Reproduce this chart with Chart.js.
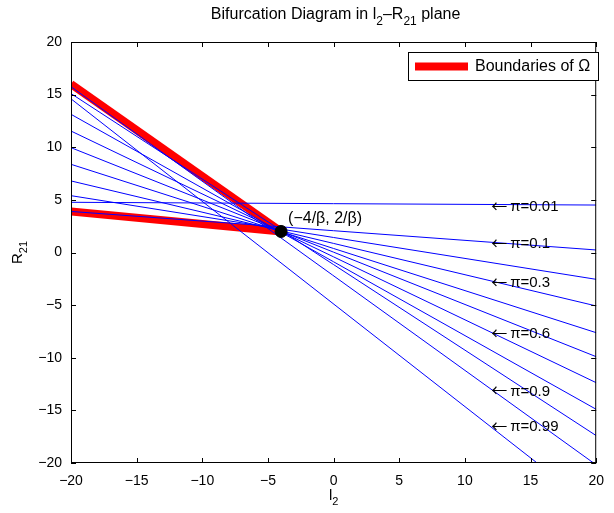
<!DOCTYPE html>
<html>
<head>
<meta charset="utf-8">
<script src="https://cdn.jsdelivr.net/npm/chart.js@4.4.1/dist/chart.umd.min.js"></script>
<style>
  html, body { margin: 0; padding: 0; background: #fff; }
  canvas { display: block; }
</style>
</head>
<body>
<canvas id="chart" width="614" height="513"></canvas>
<script>
// Blue lines: start at l2 = -20, end where they leave the box
const blueStartY = [4.77, 14.6, 15.75, 15.1, 13.13, 11.54, 9.96, 8.38, 6.8, 5.4, 3.9];
const blueEndX = [20, 15.5, 19.8, 20, 20, 20, 20, 20, 20, 20, 20];
const blueEndY = [4.51, -20, -20, -17.4, -14.9, -12.37, -9.9, -7.62, -5.08, -2.55, 0.24];

// Red boundaries of Omega, both ending at the bifurcation point
const redStartY = [16, 3.9];
const bifPoint = { x: -4, y: 2 };

// pi annotations (arrow tip at l2 = 12)
const piValues = ['0.01', '0.1', '0.3', '0.6', '0.9', '0.99'];
const piLabelY = [4.4, 0.9, -2.8, -7.6, -13.1, -16.5];
const piLabelX = 12;

const tickValues = [-20, -15, -10, -5, 0, 5, 10, 15, 20];

const FONT = '"Liberation Sans", Arial, Helvetica, sans-serif';

const datasets = [];
redStartY.forEach((y0, i) => {
    datasets.push({
        label: i === 0 ? 'Boundaries of Ω' : '',
        data: [{ x: -20, y: y0 }, bifPoint],
        borderColor: 'rgb(255,0,0)',
        borderWidth: 8,
        borderCapStyle: 'butt',
        pointRadius: 0,
        showLine: true,
        order: 3
    });
});
blueStartY.forEach((y0, i) => {
    datasets.push({
        label: '',
        data: [{ x: -20, y: y0 }, { x: blueEndX[i], y: blueEndY[i] }],
        borderColor: 'rgb(0,0,255)',
        borderWidth: 1,
        pointRadius: 0,
        showLine: true,
        order: 2
    });
});
datasets.push({
    label: '',
    data: [bifPoint],
    backgroundColor: '#000',
    borderColor: '#000',
    pointRadius: 6,
    showLine: false,
    order: 1
});

function minus(v) {
    return v < 0 ? '\u2212' + Math.abs(v) : String(v);
}

// draw text with subscripts: parts = [[text, isSub], ...]
function drawRich(ctx, parts, x, y, size, align) {
    const subSize = Math.round(size * 0.75);
    let total = 0;
    parts.forEach(([t, sub]) => {
        ctx.font = (sub ? subSize : size) + 'px ' + FONT;
        total += ctx.measureText(t).width;
    });
    let cx = align === 'center' ? x - total / 2 : x;
    ctx.textAlign = 'left';
    ctx.textBaseline = 'alphabetic';
    parts.forEach(([t, sub]) => {
        ctx.font = (sub ? subSize : size) + 'px ' + FONT;
        ctx.fillText(t, cx, sub ? y + size * 0.35 : y);
        cx += ctx.measureText(t).width;
    });
}

const decorations = {
    id: 'decorations',
    afterDraw(chart) {
        const ctx = chart.ctx;
        const a = chart.chartArea;
        const xs = chart.scales.x, ys = chart.scales.y;
        ctx.save();

        // frame
        ctx.strokeStyle = '#000';
        ctx.lineWidth = 1;
        ctx.strokeRect(a.left + 0.5, a.top + 0.5, a.right - a.left - 1, a.bottom - a.top - 1);

        // inward ticks on all sides
        ctx.beginPath();
        tickValues.forEach(v => {
            const px = Math.round(xs.getPixelForValue(v)) + 0.5;
            ctx.moveTo(px, a.bottom); ctx.lineTo(px, a.bottom - 5);
            ctx.moveTo(px, a.top); ctx.lineTo(px, a.top + 5);
            const py = Math.round(ys.getPixelForValue(v)) + 0.5;
            ctx.moveTo(a.left, py); ctx.lineTo(a.left + 5, py);
            ctx.moveTo(a.right, py); ctx.lineTo(a.right - 5, py);
        });
        ctx.stroke();

        ctx.fillStyle = '#000';
        ctx.textAlign = 'left';
        ctx.textBaseline = 'middle';

        // pi annotations: arrow + label
        piValues.forEach((p, i) => {
            const px = xs.getPixelForValue(piLabelX);
            const py = ys.getPixelForValue(piLabelY[i]);
            ctx.font = '16px "Noto Sans CJK JP", "DejaVu Sans", sans-serif';
            ctx.fillText('\u2190', px, py);
            ctx.font = '15px ' + FONT;
            ctx.fillText('\u03c0=' + p, px + 19, py + 1);
        });

        // bifurcation point label
        ctx.font = '16px ' + FONT;
        ctx.fillText('(\u22124/\u03b2, 2/\u03b2)', xs.getPixelForValue(bifPoint.x) + 7, ys.getPixelForValue(bifPoint.y) - 13);

        // legend
        const lx = 408, ly = 52, lw = 190, lh = 28;
        ctx.fillStyle = '#fff';
        ctx.fillRect(lx, ly, lw, lh);
        ctx.strokeStyle = '#000';
        ctx.lineWidth = 1;
        ctx.strokeRect(lx + 0.5, ly + 0.5, lw, lh);
        ctx.strokeStyle = 'rgb(255,0,0)';
        ctx.lineWidth = 8;
        ctx.beginPath();
        ctx.moveTo(lx + 7, ly + lh / 2 + 0.5);
        ctx.lineTo(lx + 60, ly + lh / 2 + 0.5);
        ctx.stroke();
        ctx.fillStyle = '#000';
        ctx.font = '16px ' + FONT;
        ctx.textBaseline = 'middle';
        ctx.fillText(chart.data.datasets[0].label, lx + 67, ly + lh / 2 + 1);

        // title and axis titles
        drawRich(ctx, [['Bifurcation Diagram in l', false], ['2', true], ['\u2013R', false], ['21', true], [' plane', false]],
            (a.left + a.right) / 2 + 2, 19, 16, 'center');
        drawRich(ctx, [['l', false], ['2', true]], (a.left + a.right) / 2, 500, 15, 'center');
        ctx.translate(22, (a.top + a.bottom) / 2);
        ctx.rotate(-Math.PI / 2);
        drawRich(ctx, [['R', false], ['21', true]], 0, 0, 15, 'center');

        ctx.restore();
    }
};

new Chart(document.getElementById('chart'), {
    type: 'scatter',
    data: { datasets },
    options: {
        responsive: false,
        animation: false,
        devicePixelRatio: 1,
        layout: { padding: { left: 0, top: 42, right: 10, bottom: 0 } },
        plugins: {
            legend: { display: false },
            tooltip: { enabled: false }
        },
        scales: {
            x: {
                type: 'linear',
                min: -20, max: 20,
                afterBuildTicks: s => { s.ticks = tickValues.map(v => ({ value: v })); },
                afterFit: s => { s.height = 50; },
                grid: { display: false, drawTicks: false },
                border: { display: false },
                ticks: {
                    color: '#000',
                    font: { family: FONT, size: 14 },
                    padding: 10,
                    maxRotation: 0,
                    callback: v => minus(v)
                }
            },
            y: {
                type: 'linear',
                min: -20, max: 20,
                afterBuildTicks: s => { s.ticks = tickValues.map(v => ({ value: v })); },
                afterFit: s => { s.width = 71; },
                grid: { display: false, drawTicks: false },
                border: { display: false },
                ticks: {
                    color: '#000',
                    font: { family: FONT, size: 14 },
                    padding: 9,
                    callback: v => minus(v)
                }
            }
        }
    },
    plugins: [decorations]
});
</script>
</body>
</html>
